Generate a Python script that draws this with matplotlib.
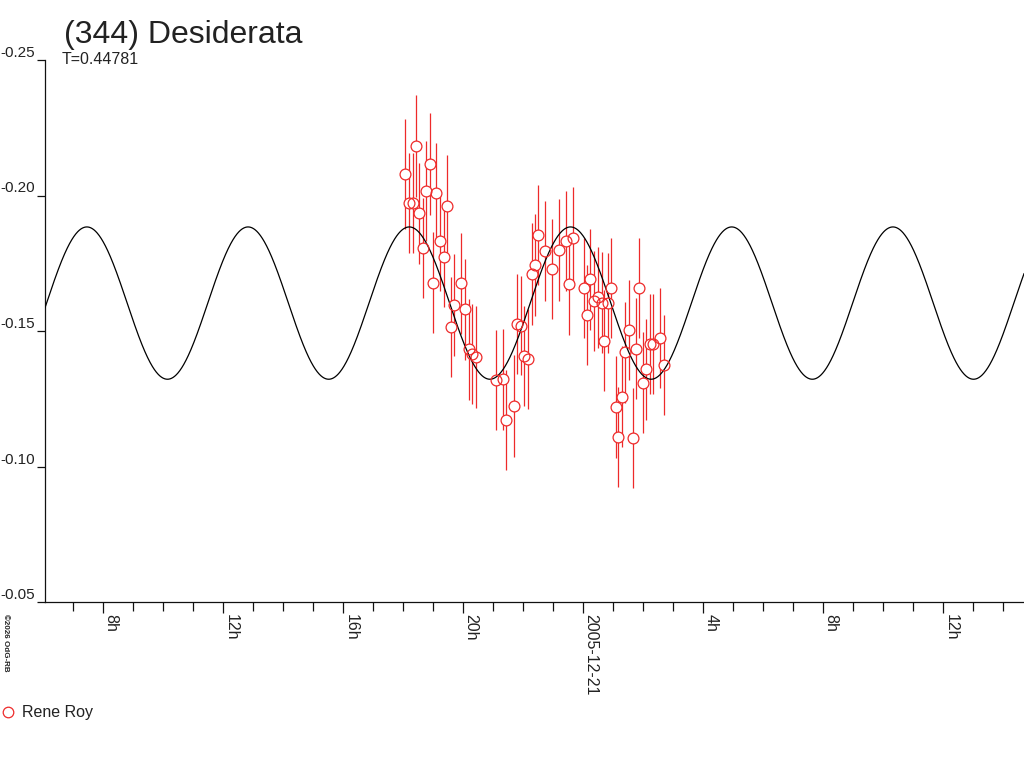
import numpy as np
import matplotlib
matplotlib.use("Agg")
import matplotlib.pyplot as plt
from matplotlib.ticker import FixedLocator, MultipleLocator
from matplotlib.lines import Line2D

plt.rcParams['font.family'] = ['Liberation Sans', 'DejaVu Sans']

# ---- data (hours since 2005-12-20 00:00 UT, relative magnitude) ----
obs_hours = [18.067, 18.200, 18.313, 18.413, 18.523, 18.657, 18.757, 18.880, 19.000, 19.100,
             19.233, 19.357, 19.467, 19.580, 19.690, 19.923, 20.047, 20.180, 20.290, 20.413,
             21.090, 21.333, 21.423, 21.690, 21.780, 21.913, 22.023, 22.167, 22.280, 22.390,
             22.490, 22.723, 22.967, 23.190, 23.423, 23.540, 23.657, 24.023, 24.133, 24.223,
             24.357, 24.500, 24.623, 24.700, 24.813, 24.933, 25.080, 25.167, 25.280, 25.390,
             25.513, 25.647, 25.757, 25.867, 25.980, 26.090, 26.223, 26.333, 26.557, 26.690]
obs_mag = [-0.2078, -0.1971, -0.1971, -0.2183, -0.1934, -0.1806, -0.2017, -0.2117, -0.1678, -0.2008,
           -0.1832, -0.1773, -0.1963, -0.1515, -0.1596, -0.1676, -0.1580, -0.1432, -0.1415, -0.1403,
           -0.1319, -0.1322, -0.1172, -0.1223, -0.1526, -0.1520, -0.1408, -0.1398, -0.1709, -0.1742,
           -0.1854, -0.1795, -0.1728, -0.1800, -0.1832, -0.1673, -0.1844, -0.1660, -0.1559, -0.1691,
           -0.1611, -0.1624, -0.1604, -0.1464, -0.1604, -0.1658, -0.1218, -0.1109, -0.1258, -0.1421,
           -0.1503, -0.1105, -0.1435, -0.1658, -0.1309, -0.1359, -0.1452, -0.1452, -0.1474, -0.1375]
obs_err = [0.0203, 0.0185, 0.0185, 0.0187, 0.0185, 0.0186, 0.0185, 0.0188, 0.0187, 0.0185,
           0.0186, 0.0186, 0.0187, 0.0185, 0.0188, 0.0186, 0.0186, 0.0185, 0.0185, 0.0188,
           0.0185, 0.0186, 0.0185, 0.0188, 0.0185, 0.0182, 0.0185, 0.0185, 0.0188, 0.0188,
           0.0185, 0.0185, 0.0185, 0.0188, 0.0186, 0.0186, 0.0187, 0.0185, 0.0185, 0.0186,
           0.0185, 0.0185, 0.0186, 0.0187, 0.0185, 0.0185, 0.0188, 0.0185, 0.0185, 0.0185,
           0.0185, 0.0185, 0.0185, 0.0185, 0.0187, 0.0187, 0.0186, 0.0185, 0.0186, 0.0185]

# fitted lightcurve model (period T in days, two maxima per rotation)
period_days = 0.44781
model_mean = -0.1603
model_amp = 0.0281
model_peak_hour = 18.20

x_tick_hours = [8, 12, 16, 20, 24, 28, 32, 36]
x_tick_labels = ['8h', '12h', '16h', '20h', '2005-12-21', '4h', '8h', '12h']
y_ticks = [-0.25, -0.20, -0.15, -0.10, -0.05]
y_tick_labels = ['-0.25', '-0.20', '-0.15', '-0.10', '-0.05']

title = '(344) Desiderata'
subtitle = 'T=0.44781'
observer = 'Rene Roy'
credit = '\u00a92026 OdG-RB'

RED = '#ee2a2a'
TXT = '#222222'

fig = plt.figure(figsize=(10.24, 7.68), dpi=100)
ax = fig.add_axes([45/1024, 1-602/768, (1024-45)/1024, (602-60)/768])
x_min, x_max = 6.057, 38.69
ax.set_xlim(x_min, x_max)
ax.set_ylim(-0.05, -0.25)

# model curve
t = np.linspace(x_min, x_max, 3000)
half_period_h = period_days * 24 / 2
model = model_mean - model_amp * np.cos(2 * np.pi * (t - model_peak_hour) / half_period_h)
ax.plot(t, model, color='black', lw=0.9, zorder=4)

# observations
ax.errorbar(obs_hours, obs_mag, yerr=obs_err, fmt='none', ecolor=RED, elinewidth=0.9,
            capsize=0, zorder=2)
ax.plot(obs_hours, obs_mag, ls='none', marker='o', ms=7.8, mfc='white', mec='none', zorder=3)
ax.plot(obs_hours, obs_mag, ls='none', marker='o', ms=7.8, mfc='none', mec=RED, mew=0.9, zorder=5)

# spines & ticks
for s in ['top', 'right']:
    ax.spines[s].set_visible(False)
for s in ['left', 'bottom']:
    ax.spines[s].set_linewidth(0.9)
    ax.spines[s].set_color('#111111')

ax.yaxis.set_major_locator(FixedLocator(y_ticks))
ax.set_yticklabels(y_tick_labels)
ax.xaxis.set_major_locator(FixedLocator(x_tick_hours))
ax.xaxis.set_minor_locator(MultipleLocator(1))
ax.set_xticklabels(x_tick_labels)

ax.tick_params(axis='y', direction='out', length=5.8, width=0.9, pad=1.3,
               labelsize=11, labelcolor=TXT, color='#111111')
ax.tick_params(axis='x', which='major', direction='out', length=7.9, width=0.9, pad=0.5,
               labelsize=11.5, labelcolor=TXT, color='#111111', labelrotation=270)
ax.tick_params(axis='x', which='minor', direction='out', length=6.3, width=0.9, color='#111111')
for lab in ax.get_yticklabels():
    lab.set_verticalalignment('bottom')
for lab in ax.get_xticklabels():
    lab.set_horizontalalignment('left')

# titles
fig.text(64/1024, 1-42.5/768, title, fontsize=23, color=TXT, va='baseline', ha='left')
fig.text(62/1024, 1-64/768, subtitle, fontsize=11.5, color=TXT, va='baseline', ha='left')

# credit
fig.text(1.5/1024, 1-614/768, credit, fontsize=5.8, color=TXT, rotation=270,
         va='top', ha='left', fontweight='bold')

# legend
handle = Line2D([], [], ls='none', marker='o', ms=7.6, mfc='none', mec=RED, mew=0.9)
leg = fig.legend([handle], [observer], loc='center left', bbox_to_anchor=(2/1024, 1-713/768),
                 frameon=False, fontsize=11.5, handlelength=0.8, handletextpad=0.45,
                 borderpad=0, borderaxespad=0)
for txt in leg.get_texts():
    txt.set_color(TXT)

fig.savefig('out.png', dpi=100)
